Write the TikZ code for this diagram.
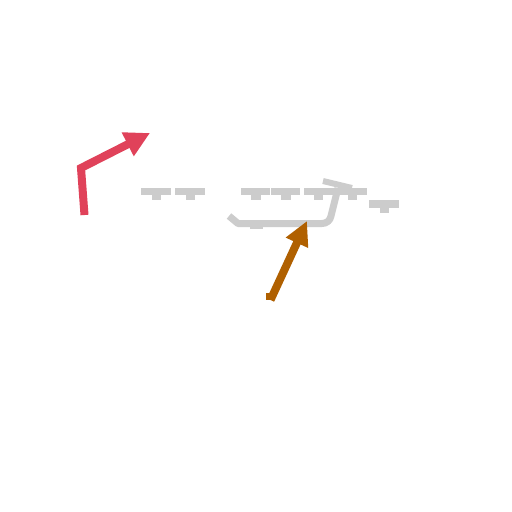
\documentclass[tikz,border=0pt]{standalone}
\usetikzlibrary{arrows.meta}
\definecolor{redarrow}{HTML}{E0425A}
\definecolor{orangearrow}{HTML}{B06000}
\definecolor{greybar}{HTML}{CCCCCC}
\begin{document}
\begin{tikzpicture}[x=1pt,y=-1pt,
  barpart/.style={fill=greybar},
  greyline/.style={draw=greybar,line width=7pt,line join=round},
  redline/.style={draw=redarrow,line width=8pt,line join=miter,-{Triangle[width=25pt,length=25pt]}},
  orangeline/.style={draw=orangearrow,line width=8pt,-{Triangle[width=23pt,length=24pt]}}]
\useasboundingbox[fill=white] (0,0) rectangle (512,512);
% grey T-shaped bars
\foreach \xa/\xb/\sa/\sb in {141/171/152/161, 175/205/186/195, 241/270/251/261, 271/300/281/291, 304/333/314/323, 333/367/348/357}{
  \fill[barpart] (\xa,188) rectangle (\xb,195);
  \fill[barpart] (\sa,195) rectangle (\sb,200);
}
\fill[barpart] (369,200) rectangle (399,208);
\fill[barpart] (380,208) rectangle (389,213);
% grey connector
\coordinate (g0) at (229,216);
\coordinate (g1) at (238,223.5);
\coordinate (g2) at (322,223.5);
\coordinate (g3) at (331,216);
\coordinate (g4) at (338,188);
\coordinate (gt1) at (323,181);
\coordinate (gt2) at (352,188);
\draw[greyline] (g0) -- (g1) -- (g2) to[out=0,in=260] (g3) -- (g4);
\draw[greyline,line width=6pt] (gt1) -- (gt2);
\fill[barpart] (250,224) rectangle (263,228.5);
% red arrow
\coordinate (r0) at (84.5,215);
\coordinate (r1) at (81,168);
\coordinate (r2) at (150,133);
\draw[redline] (r0) -- (r1) -- (r2);
% orange arrow
\coordinate (o0) at (270.5,300);
\coordinate (o1) at (307,221);
\draw[orangeline] (o0) -- (o1);
\fill[orangearrow] (266,293) rectangle (271,300);
\end{tikzpicture}
\end{document}
